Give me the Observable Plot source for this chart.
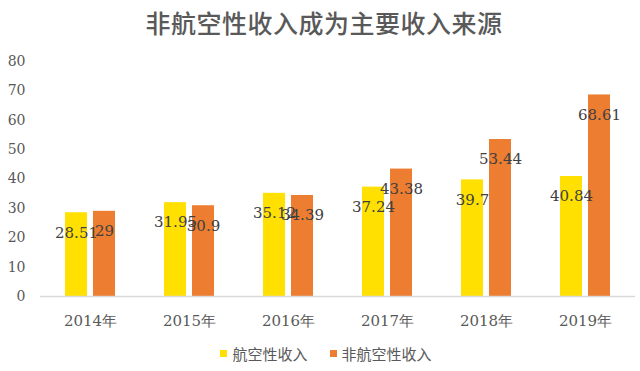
<!DOCTYPE html>
<html>
<head>
<meta charset="utf-8">
<script src="https://cdn.jsdelivr.net/npm/d3@7"></script>
<script src="https://cdn.jsdelivr.net/npm/@observablehq/plot@0.6"></script>
<style>
  body { margin: 0; background: #fff; }
  #wrap { width: 640px; height: 371px; overflow: hidden; }
  #title { height: 45px; line-height: 44px; text-align: center; padding-left: 8px; box-sizing: border-box; font-family: "Noto Sans CJK SC", sans-serif; font-size: 25px; letter-spacing: 0.5px; font-weight: 500; color: #595959; }
  #legend { display: flex; justify-content: center; align-items: center; padding-left: 12px; height: 36px; font-family: "Noto Sans CJK SC", sans-serif; font-size: 15px; color: #595959; }
  .item { display: flex; align-items: center; margin: 0 11px; }
  .sw { width: 7px; height: 7px; margin-right: 5px; }
</style>
</head>
<body>
<div id="wrap">
  <div id="title">非航空性收入成为主要收入来源</div>
  <div id="chart"></div>
  <div id="legend"></div>
</div>
<script>
const years = ["2014年", "2015年", "2016年", "2017年", "2018年", "2019年"];
const seriesNames = ["航空性收入", "非航空性收入"];
const aeroValues = [28.51, 31.95, 35.12, 37.24, 39.7, 40.84];
const nonAeroValues = [29, 30.9, 34.39, 43.38, 53.44, 68.61];
const yTicks = [0, 10, 20, 30, 40, 50, 60, 70, 80];
const colors = ["#FFE000", "#ED7D31"];

const aero = years.map((y, i) => ({year: y, value: aeroValues[i]}));
const nonAero = years.map((y, i) => ({year: y, value: nonAeroValues[i]}));

const chart = Plot.plot({
  width: 640,
  height: 290,
  marginTop: 16,
  marginBottom: 39,
  marginLeft: 40,
  marginRight: 5,
  style: {fontFamily: "'DejaVu Serif', serif", fontSize: "14px", color: "#595959", background: "#fff"},
  x: {domain: years, paddingInner: 0.778, paddingOuter: 0.389, tickSize: 0, tickPadding: 19, label: null},
  y: {domain: [0, 80], ticks: yTicks, tickSize: 0, tickPadding: 15, label: null},
  marks: [
    Plot.barY(aero, {x: "year", y: "value", fill: colors[0], dx: -14}),
    Plot.barY(nonAero, {x: "year", y: "value", fill: colors[1], dx: 14}),
    Plot.ruleY([0], {stroke: "#D9D9D9", strokeWidth: 1.5}),
    Plot.text(aero, {x: "year", y: "value", text: d => String(d.value), dx: -14, dy: 20, fill: "#404040", fontSize: 15}),
    Plot.text(nonAero, {x: "year", y: "value", text: d => String(d.value), dx: 14, dy: 20, fill: "#404040", fontSize: 15})
  ]
});
chart.querySelectorAll("g[aria-label='x-axis'] text, g[aria-label='x-axis tick label'] text").forEach(t => t.style.fontSize = "15px");
document.getElementById("chart").appendChild(chart);

const legend = document.getElementById("legend");
seriesNames.forEach((name, i) => {
  const item = document.createElement("div");
  item.className = "item";
  const sw = document.createElement("span");
  sw.className = "sw";
  sw.style.background = colors[i];
  const label = document.createElement("span");
  label.textContent = name;
  item.appendChild(sw);
  item.appendChild(label);
  legend.appendChild(item);
});
</script>
</body>
</html>
